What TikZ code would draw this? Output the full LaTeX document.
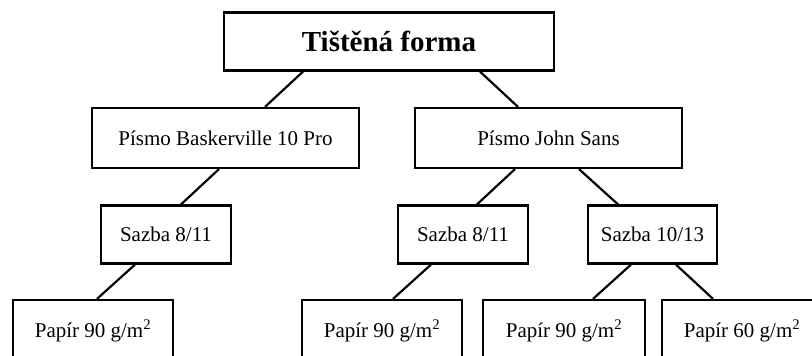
\documentclass[tikz,border=0pt]{standalone}
\usepackage{fontspec}
\setmainfont{Liberation Serif}
\begin{document}
\begin{tikzpicture}[x=1pt,y=-1pt,
 every node/.style={font=\fontsize{21}{25}\selectfont},
 box/.style={draw,line width=2.2pt,inner sep=0pt,minimum height=60pt},
 conn/.style={line width=2.2pt}]
 \clip (0,0) rectangle (812,356);
 \node[box,minimum width=330pt,minimum height=58pt,font=\fontsize{29}{34}\selectfont\bfseries] (top) at (389,41.5) {Tištěná forma};
 \node[box,minimum width=267pt] (bask) at (225.5,138) {Písmo Baskerville 10 Pro};
 \node[box,minimum width=267pt] (john) at (548.5,138) {Písmo John Sans};
 \node[box,minimum width=130pt,minimum height=58pt] (s1) at (166,234.5) {Sazba 8/11};
 \node[box,minimum width=130pt,minimum height=58pt] (s2) at (463,234.5) {Sazba 8/11};
 \node[box,minimum width=129pt,minimum height=58pt] (s3) at (652.5,234.5) {Sazba 10/13};
 \node[box,minimum width=160pt,minimum height=62pt] (p1) at (93,331) {Papír 90 g/m\textsuperscript{2}};
 \node[box,minimum width=160pt,minimum height=62pt] (p2) at (382,331) {Papír 90 g/m\textsuperscript{2}};
 \node[box,minimum width=162pt,minimum height=62pt] (p3) at (564,331) {Papír 90 g/m\textsuperscript{2}};
 \node[box,minimum width=160pt,minimum height=62pt] (p4) at (742,331) {Papír 60 g/m\textsuperscript{2}};
 \draw[conn] ([xshift=-86pt]top.south) -- ([xshift=39.5pt]bask.north);
 \draw[conn] ([xshift=91pt]top.south) -- ([xshift=-30.5pt]john.north);
 \draw[conn] ([xshift=-6.5pt]bask.south) -- ([xshift=15pt]s1.north);
 \draw[conn] ([xshift=-33.5pt]john.south) -- ([xshift=14pt]s2.north);
 \draw[conn] ([xshift=30.5pt]john.south) -- ([xshift=-34.5pt]s3.north);
 \draw[conn] ([xshift=-31pt]s1.south) -- ([xshift=4pt]p1.north);
 \draw[conn] ([xshift=-32pt]s2.south) -- ([xshift=11pt]p2.north);
 \draw[conn] ([xshift=-21.5pt]s3.south) -- ([xshift=29pt]p3.north);
 \draw[conn] ([xshift=23.5pt]s3.south) -- ([xshift=-29pt]p4.north);
\end{tikzpicture}
\end{document}
